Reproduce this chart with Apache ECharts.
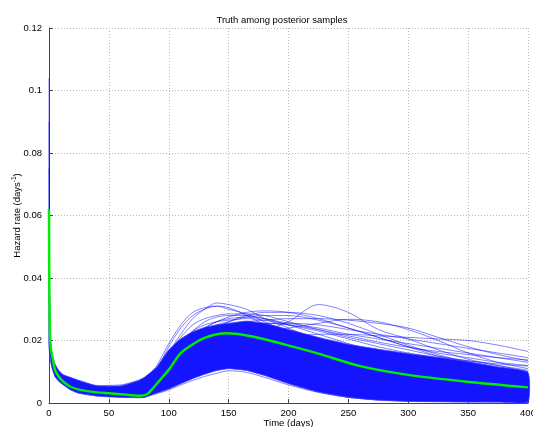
<!DOCTYPE html>
<html><head><meta charset="utf-8">
<script src="https://cdn.jsdelivr.net/npm/echarts@6/dist/echarts.min.js"></script>
<style>html,body{margin:0;padding:0;background:#fff}#c{width:533px;height:427px}</style>
</head><body><div id="c"></div>
<script>
// ---- data ----
const titleText = 'Truth among posterior samples';
const xTicks = [0, 50, 100, 150, 200, 250, 300, 350, 400];
const yTicks = [0, 0.02, 0.04, 0.06, 0.08, 0.1, 0.12];

// dense core of posterior samples (lower / upper envelope)
const coreDays  = [0, 0.5, 1, 2, 3, 5, 8, 12, 18, 25, 40, 60, 75, 80, 90, 100, 110, 120, 130, 140, 150, 165, 180, 200, 225, 250, 275, 300, 325, 350, 375, 400];
const coreLower = [0.018, 0.016, 0.0145, 0.012, 0.0105, 0.0084, 0.007, 0.0058, 0.0042, 0.0031, 0.0022, 0.0018, 0.0017, 0.0018, 0.0032, 0.0045, 0.0062, 0.0078, 0.0092, 0.0104, 0.011, 0.0104, 0.0088, 0.0062, 0.0035, 0.0018, 0.0009, 0.0005, 0.0004, 0.0003, 0.0003, 0.0003];
const coreUpper = [0.06, 0.03, 0.021, 0.017, 0.015, 0.0125, 0.0105, 0.009, 0.0082, 0.0072, 0.0055, 0.0055, 0.0072, 0.0083, 0.0115, 0.017, 0.0205, 0.0228, 0.0242, 0.025, 0.0255, 0.0262, 0.0255, 0.0235, 0.021, 0.0188, 0.0172, 0.0158, 0.0146, 0.0132, 0.0115, 0.0098];

// individual early samples (spike at t=0)
const earlyDays = [0, 0.3, 0.7, 1, 2, 3, 5, 8, 12, 18, 25, 40, 60, 80];
const early1 = [0.104, 0.05, 0.028, 0.021, 0.0165, 0.014, 0.012, 0.010, 0.009, 0.008, 0.0072, 0.0056, 0.0058, 0.008];
const early2 = [0.09, 0.045, 0.026, 0.02, 0.016, 0.0135, 0.0115, 0.0098, 0.0085, 0.0075, 0.0066, 0.005, 0.005, 0.007];
const early3 = [0.075, 0.04, 0.024, 0.019, 0.015, 0.013, 0.011, 0.0092, 0.008, 0.007, 0.006, 0.0045, 0.0046, 0.0065];

// individual samples outside the dense core (later times)
const lateDays = [80, 90, 100, 110, 120, 130, 140, 150, 165, 180, 200, 225, 250, 275, 300, 325, 350, 375, 400];
const late1  = [0.006, 0.010, 0.016, 0.022, 0.027, 0.030, 0.032, 0.0315, 0.030, 0.027, 0.024, 0.020, 0.017, 0.015, 0.013, 0.0115, 0.010, 0.009, 0.008];
const late2  = [0.006, 0.011, 0.018, 0.024, 0.028, 0.030, 0.031, 0.0305, 0.028, 0.025, 0.021, 0.017, 0.014, 0.012, 0.010, 0.009, 0.008, 0.007, 0.006];
const late3  = [0.007, 0.009, 0.013, 0.017, 0.021, 0.024, 0.026, 0.0275, 0.029, 0.0295, 0.029, 0.027, 0.024, 0.021, 0.018, 0.015, 0.013, 0.011, 0.0095];
const late4  = [0.006, 0.008, 0.011, 0.014, 0.017, 0.019, 0.021, 0.022, 0.023, 0.0235, 0.026, 0.0315, 0.029, 0.0235, 0.0205, 0.017, 0.014, 0.012, 0.010];
const late5  = [0.005, 0.007, 0.010, 0.013, 0.016, 0.018, 0.020, 0.021, 0.0225, 0.023, 0.024, 0.0255, 0.0268, 0.026, 0.0235, 0.020, 0.016, 0.013, 0.011];
const late6  = [0.005, 0.007, 0.010, 0.013, 0.015, 0.017, 0.018, 0.019, 0.020, 0.021, 0.0215, 0.022, 0.022, 0.0215, 0.021, 0.0205, 0.020, 0.0185, 0.0165];
const late7  = [0.006, 0.009, 0.013, 0.017, 0.020, 0.022, 0.024, 0.025, 0.026, 0.0265, 0.027, 0.027, 0.0265, 0.0255, 0.024, 0.021, 0.018, 0.0155, 0.0135];
const late8  = [0.007, 0.011, 0.016, 0.021, 0.025, 0.027, 0.028, 0.0285, 0.0285, 0.028, 0.026, 0.0235, 0.021, 0.019, 0.017, 0.015, 0.0135, 0.012, 0.0105];
const late9  = [0.0065, 0.010, 0.015, 0.019, 0.023, 0.026, 0.0275, 0.028, 0.028, 0.027, 0.0255, 0.024, 0.022, 0.0205, 0.019, 0.0175, 0.016, 0.0145, 0.013];
const late10 = [0.006, 0.009, 0.013, 0.017, 0.020, 0.023, 0.025, 0.026, 0.0275, 0.028, 0.028, 0.0265, 0.024, 0.021, 0.018, 0.016, 0.0145, 0.013, 0.012];
const late11 = [0.005, 0.008, 0.012, 0.016, 0.019, 0.021, 0.023, 0.024, 0.025, 0.0255, 0.0255, 0.025, 0.0235, 0.022, 0.0205, 0.019, 0.0175, 0.016, 0.0145];
const late12 = [0.006, 0.009, 0.013, 0.017, 0.021, 0.024, 0.026, 0.027, 0.0275, 0.027, 0.025, 0.022, 0.019, 0.016, 0.0135, 0.0115, 0.010, 0.009, 0.008];
const late13 = [0.002, 0.003, 0.0042, 0.0058, 0.0072, 0.0085, 0.0095, 0.0103, 0.0098, 0.0082, 0.0058, 0.0034, 0.0018, 0.001, 0.0006, 0.0005, 0.0004, 0.0004, 0.0004];
const late14 = [0.006, 0.010, 0.014, 0.018, 0.0215, 0.0235, 0.0245, 0.025, 0.0255, 0.0255, 0.025, 0.0235, 0.0215, 0.0195, 0.0178, 0.0165, 0.0155, 0.0145, 0.0138];
const late15 = [0.007, 0.012, 0.019, 0.025, 0.029, 0.0305, 0.031, 0.030, 0.0285, 0.026, 0.0225, 0.019, 0.016, 0.0135, 0.0115, 0.010, 0.009, 0.008, 0.007];
const late16 = [0.005, 0.007, 0.010, 0.014, 0.018, 0.021, 0.024, 0.026, 0.028, 0.029, 0.029, 0.028, 0.0255, 0.022, 0.0185, 0.0155, 0.013, 0.0115, 0.010];
const late17 = [0.006, 0.009, 0.014, 0.019, 0.023, 0.025, 0.026, 0.0265, 0.027, 0.0265, 0.025, 0.023, 0.0205, 0.018, 0.016, 0.0145, 0.0135, 0.0125, 0.0118];
const late18 = [0.0025, 0.0035, 0.005, 0.007, 0.009, 0.0105, 0.0115, 0.012, 0.0118, 0.0105, 0.008, 0.005, 0.003, 0.0018, 0.001, 0.0007, 0.0005, 0.0004, 0.0004];

// the true hazard (green)
const truthDays   = [0, 0.3, 1, 2, 3, 5, 8, 12, 18, 26, 40, 50, 60, 76, 82, 87, 95, 100, 109, 115, 129, 148, 171, 198, 225, 260, 300, 349, 400];
const truthValues = [0.062, 0.035, 0.020, 0.0165, 0.0145, 0.0106, 0.0085, 0.0068, 0.0052, 0.0042, 0.0034, 0.0031, 0.0028, 0.0023, 0.0028, 0.0048, 0.0084, 0.0106, 0.0155, 0.0175, 0.0207, 0.0223, 0.0212, 0.0186, 0.0158, 0.0118, 0.0090, 0.0068, 0.0050];

// ---- build chart ----
const zip = (xs, ys) => xs.map((x, i) => [x, ys[i]]);
const blue = '#0000ff';
const series = [];
const sampleLine = (xs, ys) => ({
  type: 'line', data: zip(xs, ys), symbol: 'none', smooth: 0.3, silent: true,
  lineStyle: { color: blue, width: 0.7, opacity: 0.7 }, z: 2
});
[early1, early2, early3].forEach(a => series.push(sampleLine(earlyDays, a)));
[late1, late2, late3, late4, late5, late6, late7, late8, late9, late10, late11, late12, late13, late14, late15, late16, late17, late18]
  .forEach(a => series.push(sampleLine(lateDays, a)));
// dense band as polygon through the axis scales
series.push({
  type: 'custom', silent: true, z: 3,
  data: [[coreDays[0], coreLower[0]]],
  renderItem: function (params, api) {
    const top = coreDays.map((d, i) => api.coord([d, coreUpper[i]]));
    const bot = coreDays.map((d, i) => api.coord([d, coreLower[i]])).reverse();
    return {
      type: 'polygon',
      shape: { points: top.concat(bot), smooth: 0.15 },
      style: { fill: '#1414ff', stroke: '#3a3aff', lineWidth: 0.8 }
    };
  }
});
series.push({
  type: 'line', data: zip(truthDays, truthValues), symbol: 'none', smooth: 0.3,
  lineStyle: { color: '#00ee00', width: 2.5 }, z: 5
});

const font = 'Liberation Sans, Arial, sans-serif';
const fs = 9.5;
const chart = echarts.init(document.getElementById('c'), null, { renderer: 'canvas' });
chart.setOption({
  animation: false,
  backgroundColor: '#fff',
  title: { text: titleText, left: 277, top: 10, textAlign: 'center',
    textStyle: { fontSize: fs, fontWeight: 'normal', color: '#000', fontFamily: font } },
  grid: { left: 49, right: 5, top: 28, bottom: 24, containLabel: false, outerBoundsMode: 'none' },
  xAxis: {
    type: 'value', min: xTicks[0], max: xTicks[xTicks.length - 1], interval: 50,
    name: 'Time (days)', nameLocation: 'middle', nameGap: 15, nameMoveOverlap: false,
    nameTextStyle: { fontSize: fs, color: '#000', fontFamily: font },
    axisLine: { onZero: false, lineStyle: { color: '#444', width: 1 } },
    axisTick: { inside: true, length: 4, lineStyle: { color: '#444' } },
    axisLabel: { fontSize: fs, color: '#000', fontFamily: font, margin: 5 },
    splitLine: { show: true, lineStyle: { color: '#b8b8b8', type: [1, 2], width: 1 } }
  },
  yAxis: {
    type: 'value', min: yTicks[0], max: yTicks[yTicks.length - 1], interval: 0.02,
    name: 'Hazard rate (days{sup|-1})', nameLocation: 'middle', nameGap: 25, nameRotate: 90, nameMoveOverlap: false,
    nameTextStyle: { fontSize: fs, color: '#000', fontFamily: font,
      rich: { sup: { fontSize: 6.5, color: '#000', fontFamily: font, padding: [0, 0, 6, 0] } } },
    axisLine: { show: true, onZero: false, lineStyle: { color: '#444', width: 1 } },
    axisTick: { show: true, inside: true, length: 4, lineStyle: { color: '#444' } },
    axisLabel: { fontSize: fs, color: '#000', fontFamily: font, margin: 7 },
    splitLine: { show: true, lineStyle: { color: '#b8b8b8', type: [1, 2], width: 1 } }
  },
  series
});
</script></body></html>
